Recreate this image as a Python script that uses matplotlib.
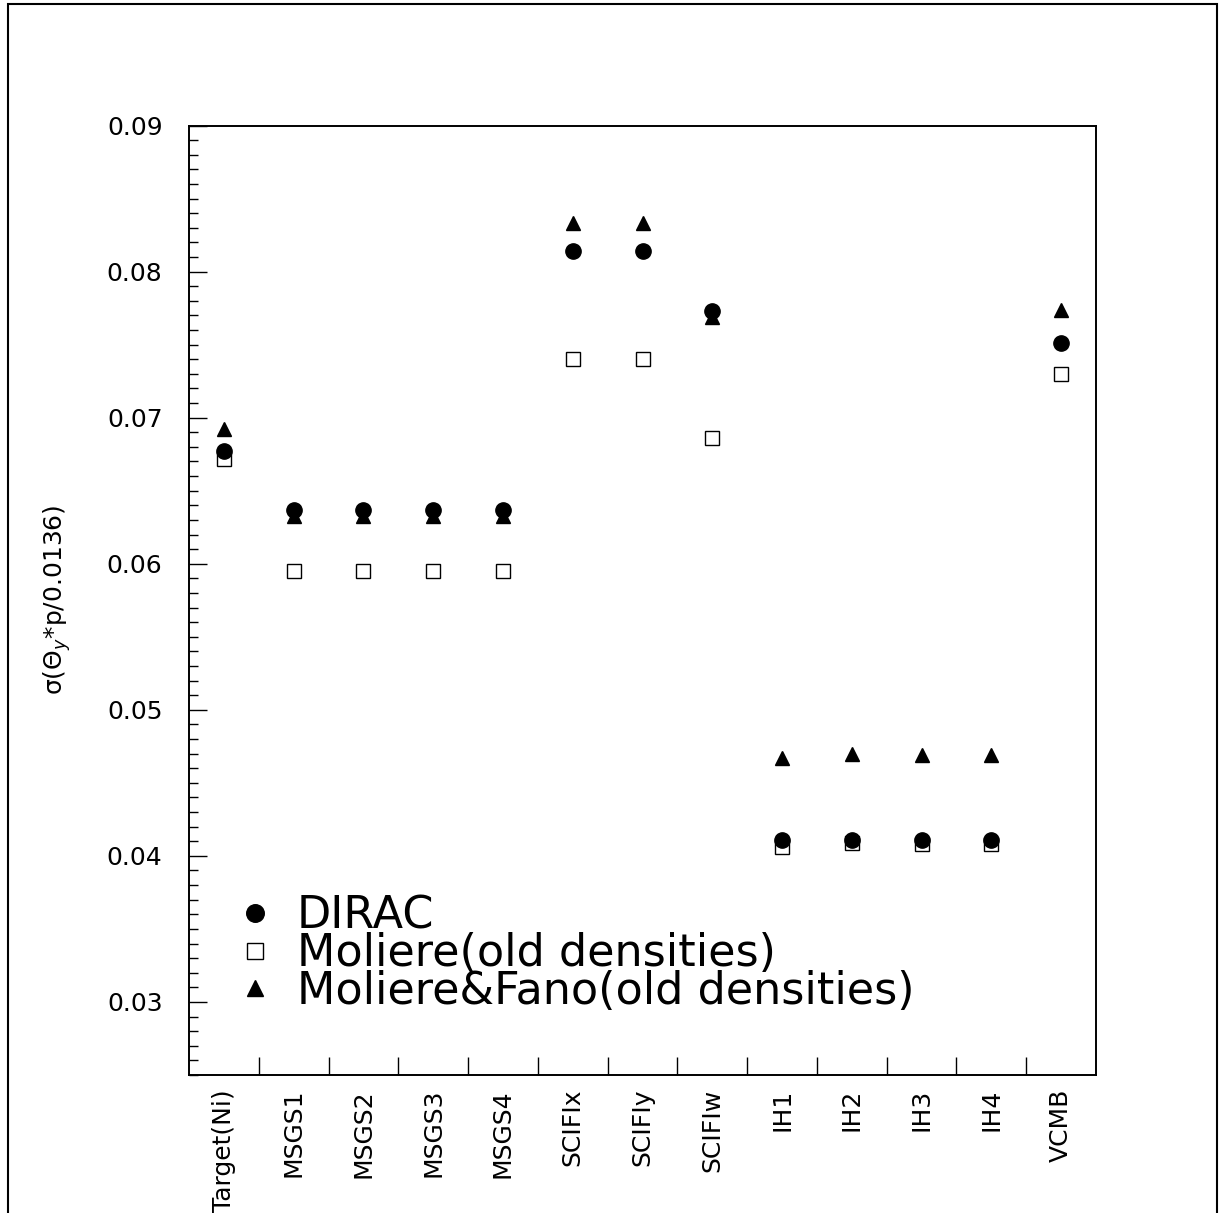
import matplotlib
matplotlib.use("Agg")
import matplotlib.pyplot as plt
from matplotlib.patches import Rectangle
import numpy as np

# detector planes along the beam
planes = ["Target(Ni)", "MSGS1", "MSGS2", "MSGS3", "MSGS4", "SCIFIx", "SCIFIy",
          "SCIFIw", "IH1", "IH2", "IH3", "IH4", "VCMB"]

# sigma(theta_y * p / 0.0136) per plane
dirac = [0.0677, 0.0637, 0.0637, 0.0637, 0.0637, 0.0814, 0.0814,
         0.0773, 0.0411, 0.0411, 0.0411, 0.0411, 0.0751]
moliere = [0.0672, 0.0595, 0.0595, 0.0595, 0.0595, 0.0740, 0.0740,
           0.0686, 0.0406, 0.0409, 0.0408, 0.0408, 0.0730]
moliere_fano = [0.0692, 0.0633, 0.0633, 0.0633, 0.0633, 0.0833, 0.0833,
                0.0769, 0.0467, 0.0470, 0.0469, 0.0469, 0.0774]

W, H = 1219, 1213
fig = plt.figure(figsize=(W / 100, H / 100), dpi=100)
plt.rcParams['font.family'] = ['DejaVu Sans']

# outer pad frame (bottom edge runs off the page)
fig.patches.append(Rectangle((7.5 / W, -0.05), (1217 - 7.5) / W, 1 + 0.05 - 4 / H,
                             transform=fig.transFigure, fill=False,
                             edgecolor='black', lw=1.5))

ax = fig.add_axes([189 / W, 1 - 1075 / H, (1096 - 189) / W, (1075 - 125.5) / H])

x = np.arange(len(planes))
ax.plot(x, moliere, ls='none', marker='s', ms=10.5, mfc='white', mec='black',
        mew=1.0, label='Moliere(old densities)', zorder=2)
ax.plot(x, moliere_fano, ls='none', marker='^', ms=10.5, color='black',
        label='Moliere&Fano(old densities)', zorder=3)
ax.plot(x, dirac, ls='none', marker='o', ms=11, color='black',
        label='DIRAC', zorder=4)

ax.set_xlim(-0.5, len(planes) - 0.5)
ax.set_ylim(0.025, 0.09)

# x: ticks at bin edges, labels at bin centres
ax.set_xticks(np.arange(0.5, len(planes) - 0.5, 1.0))
ax.set_xticklabels([])
ax.set_xticks(x, minor=True)
ax.set_xticklabels(planes, minor=True, rotation=90, va='top', ha='center', fontsize=18)
ax.tick_params(axis='x', which='major', direction='in', length=13, width=1.0,
               top=False)
ax.tick_params(axis='x', which='minor', length=0, pad=10, top=False)

ax.set_yticks(np.arange(0.03, 0.0901, 0.01))
ax.set_yticks(np.arange(0.025, 0.0901, 0.001), minor=True)
ax.set_yticklabels(["%.2f" % v for v in np.arange(0.03, 0.0901, 0.01)], fontsize=18)
ax.tick_params(axis='y', which='major', direction='in', length=13, width=1.0,
               pad=19, right=False)
ax.tick_params(axis='y', which='minor', direction='in', length=6.5, width=1.0,
               right=False)

for s in ax.spines.values():
    s.set_linewidth(1.4)

ax.set_ylabel("σ(Θ$_{y}$*p/0.0136)", fontsize=18)
ax.yaxis.set_label_coords(-0.128, 0.5)

h, l = ax.get_legend_handles_labels()
order = [2, 0, 1]
ax.legend([h[i] for i in order], [l[i] for i in order], loc='upper left',
          bbox_to_anchor=(0.0485, 0.19), frameon=False, fontsize=32,
          handlelength=1.0, handletextpad=0.44, labelspacing=-0.12,
          borderpad=0, borderaxespad=0, markerscale=1.15)

fig.savefig("out.png", dpi=100)
